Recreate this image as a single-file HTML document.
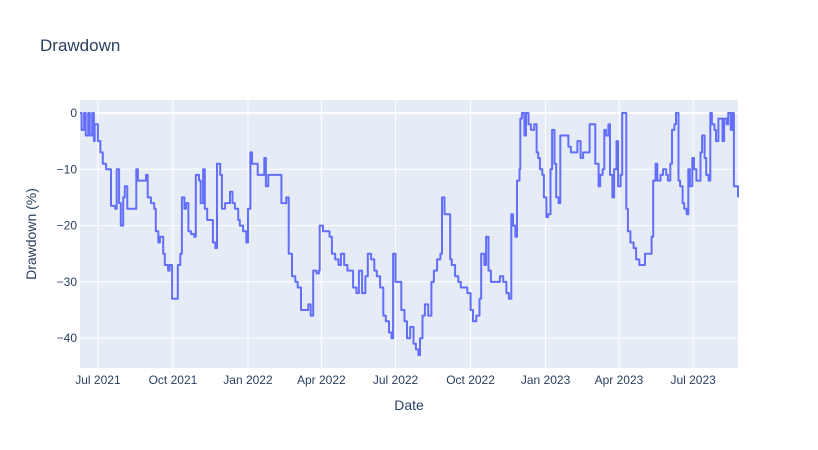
<!DOCTYPE html>
<html><head><meta charset="utf-8">
<style>
body{margin:0;background:#fff;}
svg{display:block;font-family:"Liberation Sans",Arial,sans-serif;}
</style></head>
<body>
<svg id="chart" width="818" height="450">
  <rect x="0" y="0" width="818" height="450" fill="#fff"/>
  <text x="40" y="51" font-size="17" fill="#2a3f5f">Drawdown</text>
  <rect x="80" y="100" width="658" height="268" fill="#e5ecf6"/>
  <g id="grid"></g>
  <g id="series"></g>
  <g id="ticks"></g>
  <text x="409" y="410" font-size="14" fill="#2a3f5f" text-anchor="middle">Date</text>
  <text transform="translate(36,234) rotate(-90)" font-size="14" fill="#2a3f5f" text-anchor="middle">Drawdown (%)</text>
</svg>
<script>
// days since 2021-06-09
const days = [0,2,5,7,10,12,15,17,18,22,25,28,32,37,38,43,45,48,50,53,55,58,63,66,69,71,77,81,83,87,91,93,96,98,102,104,108,110,113,118,120,123,125,128,130,133,136,140,142,146,148,151,153,156,160,163,166,168,172,174,178,182,184,187,190,194,196,200,204,206,209,211,215,218,222,226,228,231,234,239,243,247,250,253,256,260,264,267,271,276,280,283,286,290,293,294,298,302,306,309,313,317,320,324,328,331,335,339,342,346,350,353,357,361,364,368,372,375,379,382,384,387,390,394,398,401,405,409,412,415,417,420,423,427,431,434,438,442,444,447,449,452,454,456,460,464,467,471,475,479,482,486,490,492,496,498,501,504,508,512,515,519,523,526,529,531,534,536,539,540,542,545,547,550,553,557,560,562,564,567,569,572,574,577,579,582,584,587,589,591,595,599,602,606,610,614,617,621,625,628,632,636,638,641,643,645,648,650,653,655,658,660,663,665,667,670,672,675,679,682,686,690,693,697,701,703,706,708,712,715,719,721,724,726,729,731,734,736,739,741,744,746,748,751,753,756,758,761,763,766,768,771,773,775,778,780,783,785,788,790,793,795,798,800,802,805,807];
const drawdown = [0,-3,0,-4,0,-4,0,-5,-2,-5,-7,-9,-10,-10,-16.5,-17,-10,-16,-20,-15,-13,-17,-17,-17,-10,-12,-12,-11,-15,-16,-17,-21,-23,-22,-25,-27,-28,-27,-33,-33,-27,-25,-15,-17,-16,-21,-21.5,-22,-11,-12,-16,-10,-17,-19,-19,-23,-24,-9,-11,-17,-16,-16,-14,-16,-17,-19,-20,-21,-23,-17,-7,-9,-9,-11,-11,-8,-13,-11,-11,-11,-11,-16,-16,-15,-25,-29,-30,-31,-35,-35,-34,-36,-28,-28.5,-28,-20,-21,-21,-22,-25,-26,-27,-25,-27,-28,-28,-31,-32,-28,-32,-29,-25,-26,-28,-29,-31,-36,-37,-39,-40,-25,-30,-30,-35,-37,-40,-38,-41,-42,-43,-40,-36,-34,-36,-30,-28,-26,-25,-15,-18,-18,-18,-26,-27,-29,-30,-31,-31,-32,-35,-37,-36,-33,-25,-27,-22,-28,-30,-30,-30,-29,-30,-32,-33,-18,-20,-22,-12,-10,-1,0,-4,0,-2,-3,-2,-7,-8,-10,-11,-15,-18.5,-18,-10,-3,-9,-15,-16,-4,-4,-4,-6,-7,-7,-5,-8,-7,-7,-2,-2,-9,-13,-11,-10,-3,-4,-2,-11,-15,-10,-5,-13,-11,0,0,-17,-21,-23,-24,-26,-27,-27,-25,-25,-22,-12,-9,-12,-11,-10,-11,-12,-9,-3,-2,0,-12,-13,-16,-17,-18,-10,-13,-8,-10,-12,-12,-7,-4,-8,-11,-12,0,-2,-3,-5,-1,-1,-5,-1,-2,0,-3,0,-13,-13,-15];
const xTickDays = [22,114,206,296,387,479,571,661,752];
const xTickLabels = ["Jul 2021","Oct 2021","Jan 2022","Apr 2022","Jul 2022","Oct 2022","Jan 2023","Apr 2023","Jul 2023"];
const yTickValues = [0,-10,-20,-30,-40];
const yTickLabels = ["0","−10","−20","−30","−40"];

const L=80,R=738,T=100,B=368;
const xMin=0,xMax=807,yMax=2.31,yMin=-45.3;
const xs=d=>L+(d-xMin)/(xMax-xMin)*(R-L);
const ys=v=>T+(yMax-v)/(yMax-yMin)*(B-T);
const NS="http://www.w3.org/2000/svg";
const grid=document.getElementById('grid'),ticks=document.getElementById('ticks'),series=document.getElementById('series');

xTickDays.forEach((d,i)=>{
  const x=xs(d);
  const ln=document.createElementNS(NS,'line');
  ln.setAttribute('x1',x);ln.setAttribute('x2',x);ln.setAttribute('y1',T);ln.setAttribute('y2',B);
  ln.setAttribute('stroke','#fff');ln.setAttribute('stroke-width','1');
  
  
  grid.appendChild(ln);
  const t=document.createElementNS(NS,'text');
  t.setAttribute('x',x);t.setAttribute('y',384);t.setAttribute('text-anchor','middle');
  t.setAttribute('font-size','12');t.setAttribute('fill','#2a3f5f');
  t.textContent=xTickLabels[i];
  
  
  ticks.appendChild(t);
});
yTickValues.forEach((v,i)=>{
  const y=ys(v);
  const ln=document.createElementNS(NS,'line');
  ln.setAttribute('x1',L);ln.setAttribute('x2',R);ln.setAttribute('y1',y);ln.setAttribute('y2',y);
  ln.setAttribute('stroke','#fff');ln.setAttribute('stroke-width',v===0?'2':'1');
  
  
  grid.appendChild(ln);
  const t=document.createElementNS(NS,'text');
  t.setAttribute('x',L-3);t.setAttribute('y',y+4);t.setAttribute('text-anchor','end');
  t.setAttribute('font-size','12');t.setAttribute('fill','#2a3f5f');
  t.textContent=yTickLabels[i];
  
  
  ticks.appendChild(t);
});
let dStr='';
days.forEach((d,i)=>{
  const x=xs(d).toFixed(1),y=ys(drawdown[i]).toFixed(1);
  if(i===0){dStr+='M'+x+','+y;}
  else{dStr+='H'+x+'V'+y;}
});
const p=document.createElementNS(NS,'path');
p.setAttribute('d',dStr);
p.setAttribute('fill','none');p.setAttribute('stroke','#636efa');p.setAttribute('stroke-width','2');
p.setAttribute('stroke-linejoin','round');


series.appendChild(p);
</script>
</body></html>
